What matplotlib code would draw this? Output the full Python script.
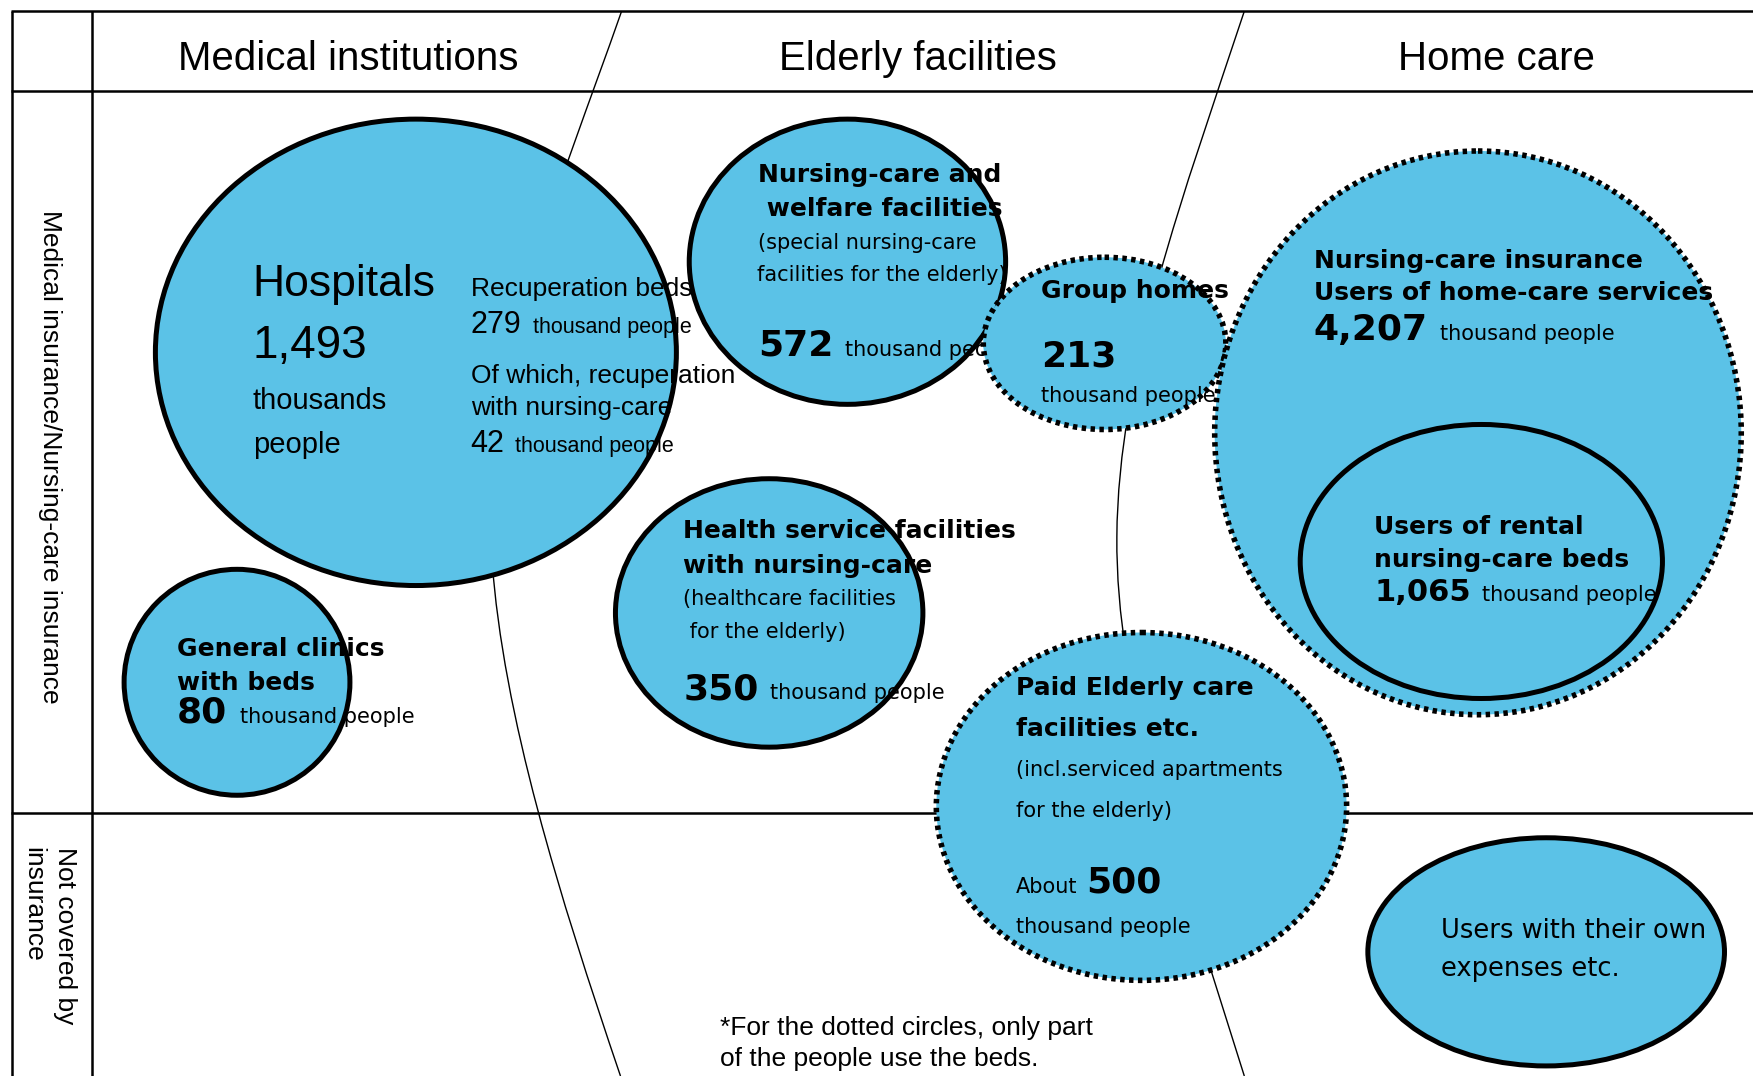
import matplotlib.pyplot as plt
from matplotlib.patches import Ellipse, PathPatch
from matplotlib.path import Path

# ---- datos del esquema ----
column_labels = ["Medical institutions", "Elderly facilities", "Home care"]
row_labels = ["Medical insurance/Nursing-care insurance", "Not covered by\ninsurance"]

names = [
    ["Hospitals"],
    ["General clinics", "with beds"],
    ["Nursing-care and", " welfare facilities"],
    ["Group homes"],
    ["Health service facilities", "with nursing-care"],
    ["Nursing-care insurance", "Users of home-care services"],
    ["Users of rental", "nursing-care beds"],
    ["Paid Elderly care", "facilities etc."],
    ["Users with their own", "expenses etc."],
]
people = [1493, 80, 572, 213, 350, 4207, 1065, 500, None]  # miles de personas
notes = [
    [], [],
    ["(special nursing-care", "facilities for the elderly)"],
    [],
    ["(healthcare facilities", " for the elderly)"],
    [], [],
    ["(incl.serviced apartments", "for the elderly)"],
    [],
]
recup_labels = ["Recuperation beds", "Of which, recuperation\nwith nursing-care"]
recup_values = [279, 42]
unit = "thousand people"
hosp_unit = ["thousands", "people"]
about = "About"
footnote = "*For the dotted circles, only part\nof the people use the beds."

# ---- layout (unidades = px de la vista 1568x962) ----
W, H = 1568, 962
BLUE = "#5bc2e7"
LIB = ["Liberation Sans", "DejaVu Sans"]
DJV = ["DejaVu Sans"]

# centro x, centro y, ancho, alto
shapes = [
    (372, 315, 466, 417),
    (212, 610, 202, 202),
    (758, 234, 283, 255),
    (988, 307, 217, 154),
    (688, 548, 275, 240),
    (1322, 387, 471, 504),
    (1325, 502, 324, 245),
    (1021, 721, 367, 311),
    (1383, 851, 319, 204),
]
dotted = [False, False, False, True, False, True, False, True, False]

fig = plt.figure(figsize=(17.53, 10.76), dpi=100)
ax = fig.add_axes([0, 0, 1, 1])
ax.set_xlim(0, W)
ax.set_ylim(H, 0)
ax.axis("off")


def txt(x, y, s, size, bold=False, fam=DJV, z=50, **kw):
    ax.text(x, y, s, fontsize=size, fontweight="bold" if bold else "normal",
            family=fam, va="baseline", ha=kw.pop("ha", "left"), zorder=z, **kw)


# tabla
for y in (10, 81.5, 726.5):
    ax.plot([10, W], [y, y], color="black", lw=1.8, zorder=1, solid_capstyle="butt")
for x in (10.5, 82.5):
    ax.plot([x, x], [10, H], color="black", lw=1.8, zorder=1, solid_capstyle="butt")

for cx, lab in zip((311.5, 821.5, 1338.5), column_labels):
    txt(cx, 62.5, lab, 29, fam=LIB, ha="center")

ax.text(45, 408, row_labels[0], fontsize=19, family=LIB, rotation=270,
        ha="center", va="center", zorder=2)
for x, linea in zip((58, 30), row_labels[1].split("\n")):
    ax.text(x, 757, linea, fontsize=19, family=LIB, rotation=270,
            rotation_mode="anchor", ha="left", va="center", zorder=2)

# curvas separadoras
curvas = [
    [(556, 10), (500, 170), (430, 330), (440, 500), (450, 640), (500, 800), (555, 962)],
    [(1113, 10), (1060, 170), (1000, 330), (999, 480), (998, 620), (1050, 760), (1113, 962)],
]
for pts in curvas:
    codes = [Path.MOVETO] + [Path.CURVE4] * 6
    ax.add_patch(PathPatch(Path(pts, codes), fill=False, lw=1.0, color="black", zorder=1))

# textos por circulo
def block(i):
    n = people[i]
    if i == 0:
        txt(226, 265, names[0][0], 32, fam=LIB, z=z)
        txt(226, 320, f"{n:,}", 33, fam=LIB, z=z)
        txt(226, 366, hosp_unit[0], 21, fam=LIB, z=z)
        txt(226, 405, hosp_unit[1], 21, fam=LIB, z=z)
        txt(421, 265, recup_labels[0], 19, fam=LIB, z=z)
        txt(421, 298, f"{recup_values[0]}", 22, fam=LIB, z=z)
        txt(477, 298, unit, 15.5, fam=LIB, z=z)
        l1, l2 = recup_labels[1].split("\n")
        txt(421, 342, l1, 19, fam=LIB, z=z)
        txt(421, 371, l2, 19, fam=LIB, z=z)
        txt(421, 404, f"{recup_values[1]}", 22, fam=LIB, z=z)
        txt(461, 404, unit, 15.5, fam=LIB, z=z)
    elif i == 1:
        txt(158, 586.5, names[1][0], 18, True, z=z)
        txt(158, 616.5, names[1][1], 18, True, z=z)
        txt(158, 646, f"{n:,}", 26, True, z=z)
        txt(215, 646, unit, 15, z=z)
    elif i == 2:
        txt(678, 162.5, names[2][0], 18, True, z=z)
        txt(678, 193.5, names[2][1], 18, True, z=z)
        txt(678, 222.5, notes[2][0], 15, z=z)
        txt(677, 251.5, notes[2][1], 15, z=z)
        txt(678, 318, f"{n:,}", 26, True, z=z)
        txt(756, 318, unit, 15, z=z)
    elif i == 3:
        txt(931, 266, names[3][0], 18, True, z=z)
        txt(931, 328, f"{n:,}", 26, True, z=z)
        txt(931, 359, unit, 15, z=z)
    elif i == 4:
        txt(611, 481, names[4][0], 18, True, z=z)
        txt(611, 512, names[4][1], 18, True, z=z)
        txt(611, 540.5, notes[4][0], 15, z=z)
        txt(611, 570, notes[4][1], 15, z=z)
        txt(611, 625, f"{n:,}", 26, True, z=z)
        txt(689, 625, unit, 15, z=z)
    elif i == 5:
        txt(1175, 239.5, names[5][0], 18, True, z=z)
        txt(1175, 268.5, names[5][1], 18, True, z=z)
        txt(1175, 304, f"{n:,}", 26, True, z=z)
        txt(1288, 304, unit, 15, z=z)
    elif i == 6:
        txt(1229, 477.5, names[6][0], 18, True, z=z)
        txt(1229, 506.5, names[6][1], 18, True, z=z)
        txt(1229, 537.5, f"{n:,}", 22, True, z=z)
        txt(1326, 537.5, unit, 15, z=z)
    elif i == 7:
        txt(909, 621, names[7][0], 18, True, z=z)
        txt(909, 658, names[7][1], 18, True, z=z)
        txt(909, 694, notes[7][0], 15, z=z)
        txt(909, 730, notes[7][1], 15, z=z)
        txt(909, 798, about, 15, z=z)
        txt(972, 798, f"{n:,}", 26, True, z=z)
        txt(909, 834.5, unit, 15, z=z)
    elif i == 8:
        txt(1289, 839, names[8][0], 18.5, z=z)
        txt(1289, 872.5, names[8][1], 18.5, z=z)


for i, (cx, cy, w, h) in enumerate(shapes):
    z = 10 + 3 * i
    ax.add_patch(Ellipse((cx, cy), w, h, facecolor=BLUE, edgecolor="none", zorder=z))
    z = z + 1
    block(i)
    ls = (0, (0.8, 0.8)) if dotted[i] else "-"
    ax.add_patch(Ellipse((cx, cy), w, h, fill=False, edgecolor="black",
                         lw=4.0 if dotted[i] else 3.6, linestyle=ls, zorder=z + 1))

f1, f2 = footnote.split("\n")
txt(644, 925, f1, 19, fam=LIB, z=60)
txt(644, 953.5, f2, 19, fam=LIB, z=60)

plt.savefig("out.png", dpi=100)
